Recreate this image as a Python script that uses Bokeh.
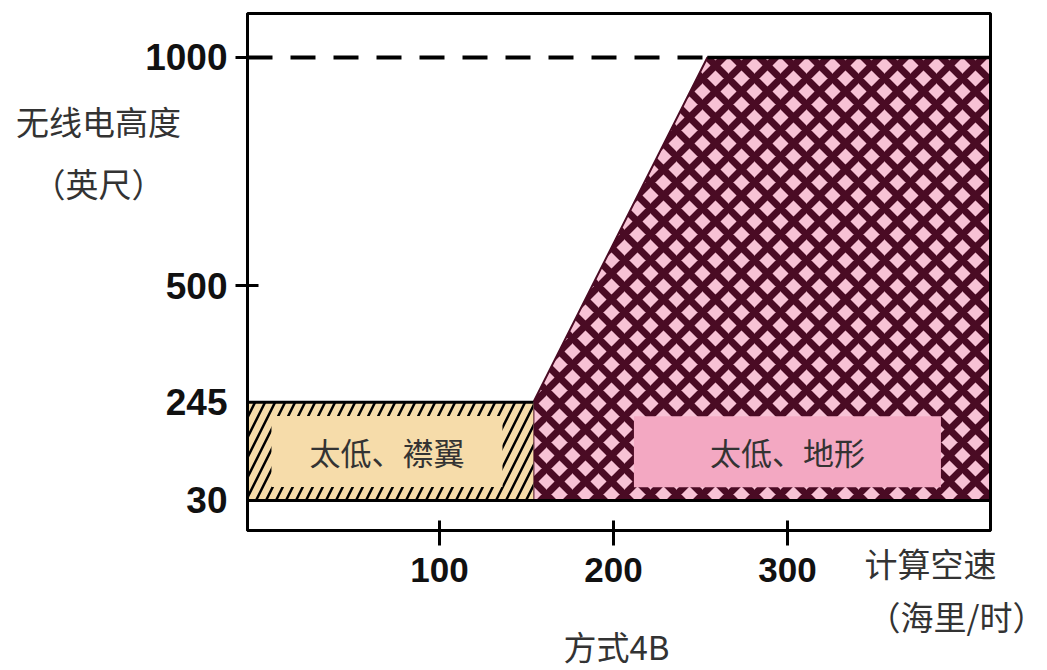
from bokeh.plotting import figure
from bokeh.models import FixedTicker, Label, Range1d, BoxAnnotation
from bokeh.embed import file_html
from bokeh.resources import INLINE

# --- data -------------------------------------------------------------
speed_ticks = [100, 200, 300]                 # computed airspeed (kt)
alt_ticks = [30, 245, 500, 1000]              # radio altitude (ft)
alt_marks = [500, 1000]                       # altitudes with a tick mark

speed_lo, speed_hi = -10.3, 416.7             # extent of the chart box (kt)
alt_lo, alt_hi = -35.7, 1096.3                # extent of the chart box (ft)

# "too low, flaps" band
flaps_speed = [speed_lo, 154]
flaps_alt = [30, 245]

# "too low, terrain" envelope
terrain_speed = [154, 154, 254, speed_hi, speed_hi]
terrain_alt = [30, 245, 1000, 1000, 30]

# --- canvas geometry ----------------------------------------------------
W, H = 1047, 670
BOX_L, BOX_R, BOX_T, BOX_B = 247, 990, 13, 530     # chart box in pixels
kx = (BOX_R - BOX_L) / (speed_hi - speed_lo)       # px per kt
ky = (BOX_B - BOX_T) / (alt_hi - alt_lo)           # px per ft
view_x = (speed_lo - BOX_L / kx, speed_hi + (W - BOX_R) / kx)
view_y = (alt_lo - (H - BOX_B) / ky, alt_hi + BOX_T / ky)


def at(px, py):
    """Canvas pixel position -> data position (for captions)."""
    return view_x[0] + px / kx, view_y[1] - py / ky


CJK = "Noto Sans CJK SC"
NUM = "Liberation Sans"
TAN = "#f6dcaa"
PINK = "#f7c2d5"
PINK_BOX = "#f3a8c2"
MAROON = "#4a0b24"
INK = "#333333"

p = figure(width=W, height=H, output_backend="svg", toolbar_location=None,
           x_range=Range1d(*view_x), y_range=Range1d(*view_y),
           min_border=0)
p.background_fill_color = "white"
p.border_fill_color = "white"
p.grid.visible = False
p.outline_line_color = None

# terrain envelope with a diamond cross-hatch
p.patch(terrain_speed, terrain_alt, fill_color=PINK, hatch_pattern="x",
        hatch_color=MAROON, hatch_scale=26, hatch_weight=7,
        line_color=MAROON, line_width=2)

# flaps band with diagonal hatch
p.quad(left=flaps_speed[0], right=flaps_speed[1], bottom=flaps_alt[0], top=flaps_alt[1],
       fill_color=TAN, hatch_pattern="/", hatch_color="black", hatch_scale=20,
       hatch_weight=2.5, line_color=None)

# boundary lines
p.line([flaps_speed[0], flaps_speed[1]], [flaps_alt[1], flaps_alt[1]], line_color="black", line_width=3)
p.line([speed_lo, speed_hi], [terrain_alt[0], terrain_alt[0]], line_color="black", line_width=3)
p.line([terrain_speed[2], speed_hi], [terrain_alt[2], terrain_alt[2]], line_color="black", line_width=3.5)
p.line([speed_lo, terrain_speed[2]], [terrain_alt[2], terrain_alt[2]], line_color="black",
       line_width=4, line_dash="25 18")

# chart box
p.add_layout(BoxAnnotation(left=speed_lo, right=speed_hi, bottom=alt_lo, top=alt_hi,
                           fill_color=None, fill_alpha=0, line_color="black",
                           line_alpha=1.0, line_width=3))

# region captions
p.add_layout(Label(x=(flaps_speed[0] + flaps_speed[1]) / 2 - 2, y=(flaps_alt[0] + flaps_alt[1]) / 2,
                   text="太低、襟翼", text_font=CJK, text_font_size="31px", text_color=INK,
                   text_align="center", text_baseline="middle",
                   background_fill_color=TAN, padding=dict(left=38, right=38, top=13, bottom=13)))
p.add_layout(Label(x=300, y=137, text="太低、地形", text_font=CJK, text_font_size="31px",
                   text_color=INK, text_align="center", text_baseline="middle",
                   background_fill_color=PINK_BOX, padding=dict(left=76, right=76, top=13, bottom=13)))

# axes, pinned to the edges of the chart box
xa = p.xaxis[0]
xa.fixed_location = alt_lo
xa.bounds = (speed_lo, speed_hi)
xa.ticker = FixedTicker(ticks=speed_ticks)
xa.axis_line_color = "black"
xa.axis_line_width = 3
xa.major_tick_line_color = "black"
xa.major_tick_line_width = 3
xa.major_tick_in = 10
xa.major_tick_out = 15
xa.minor_tick_line_color = None
xa.major_label_standoff = 12
xa.major_label_text_font = NUM
xa.major_label_text_font_style = "bold"
xa.major_label_text_font_size = "35px"
xa.major_label_text_color = "#111111"

ya = p.yaxis[0]
ya.fixed_location = speed_lo
ya.bounds = (alt_lo, alt_hi)
ya.ticker = FixedTicker(ticks=alt_ticks, minor_ticks=alt_marks)
ya.axis_line_color = "black"
ya.axis_line_width = 3
ya.major_tick_line_color = None
ya.major_tick_in = 0
ya.major_tick_out = 0
ya.minor_tick_line_color = "black"
ya.minor_tick_line_width = 3
ya.minor_tick_in = 11
ya.minor_tick_out = 12
ya.major_label_standoff = 8
ya.major_label_text_font = NUM
ya.major_label_text_font_style = "bold"
ya.major_label_text_font_size = "37px"
ya.major_label_text_color = "#111111"

# axis titles
for txt, px, py, align in [("无线电高度", 98, 120, "center"), ("（英尺）", 98, 182, "center"),
                           ("计算空速", 996, 562, "right"), ("（海里/时）", 1045, 615, "right"),
                           ("方式4B", 616, 645, "center")]:
    x, y = at(px, py)
    p.add_layout(Label(x=x, y=y, text=txt, text_font=CJK, text_font_size="33px",
                       text_color=INK, text_align=align, text_baseline="middle"))

open("out.html", "w").write(file_html(p, INLINE))
